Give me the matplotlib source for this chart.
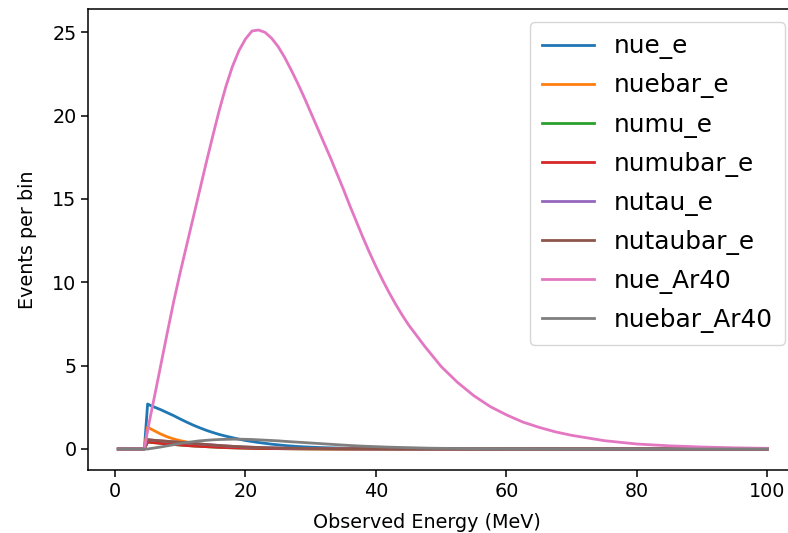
import matplotlib
matplotlib.use("Agg")
import matplotlib.pyplot as plt

# energy grid for the electron-scattering channels and nuebar_Ar40
energy = [0.5, 4.5, 5, 5.5, 6, 7, 8, 9, 10, 11, 12, 13, 14, 15, 16, 17, 18, 19, 20,
          21, 22, 23, 24, 25, 26, 28, 30, 32, 34, 36, 38, 40, 42, 44, 46, 48, 50,
          52.5, 55, 57.5, 60, 62.5, 65, 67.5, 70, 75, 80, 85, 90, 95, 100]

# finer energy grid for nue_Ar40
energy_ar = ([0.5, 4.5, 5, 5.5, 6] + list(range(7, 46)) +
             [47.5, 50, 52.5, 55, 57.5, 60, 62.5, 65, 67.5, 70, 75, 80, 85, 90, 95, 100])

nue_e = [0, 0, 2.7, 2.6, 2.52,
         2.36, 2.18, 2.0, 1.8, 1.61, 1.43, 1.27, 1.12, 0.99, 0.87, 0.77, 0.68, 0.59, 0.51,
         0.45, 0.39, 0.34, 0.29, 0.25, 0.21,
         0.15, 0.11, 0.08, 0.06, 0.04, 0.03, 0.02, 0.015, 0.01, 0.008, 0.006, 0.004,
         0.003, 0.002, 0.001, 0.001, 0, 0, 0, 0,
         0, 0, 0, 0, 0, 0]

nuebar_e = [0, 0, 1.32, 1.2, 1.1,
            0.9, 0.73, 0.6, 0.5, 0.42, 0.35, 0.29, 0.24, 0.2, 0.16, 0.13, 0.11, 0.09, 0.075,
            0.06, 0.05, 0.04, 0.033, 0.027, 0.022,
            0.015, 0.01, 0.007, 0.005, 0.003, 0.002, 0.001, 0, 0, 0, 0, 0,
            0, 0, 0, 0, 0, 0, 0, 0,
            0, 0, 0, 0, 0, 0]

numu_e = [0, 0, 0.42, 0.4, 0.38,
          0.34, 0.3, 0.27, 0.24, 0.21, 0.18, 0.16, 0.14, 0.12, 0.1, 0.085, 0.072, 0.061, 0.052,
          0.044, 0.037, 0.031, 0.026, 0.022, 0.018,
          0.012, 0.008, 0.006, 0.004, 0.003, 0.002, 0.001, 0.001, 0, 0, 0, 0,
          0, 0, 0, 0, 0, 0, 0, 0,
          0, 0, 0, 0, 0, 0]

numubar_e = [0, 0, 0.42, 0.4, 0.38,
             0.34, 0.3, 0.27, 0.24, 0.21, 0.18, 0.16, 0.14, 0.12, 0.1, 0.085, 0.072, 0.061, 0.052,
             0.044, 0.037, 0.031, 0.026, 0.022, 0.018,
             0.012, 0.008, 0.006, 0.004, 0.003, 0.002, 0.001, 0.001, 0, 0, 0, 0,
             0, 0, 0, 0, 0, 0, 0, 0,
             0, 0, 0, 0, 0, 0]

nutau_e = [0, 0, 0.56, 0.54, 0.52,
           0.49, 0.46, 0.43, 0.4, 0.37, 0.33, 0.3, 0.27, 0.24, 0.21, 0.185, 0.16, 0.14, 0.12,
           0.105, 0.09, 0.08, 0.07, 0.06, 0.05,
           0.038, 0.028, 0.02, 0.015, 0.011, 0.008, 0.006, 0.004, 0.003, 0.002, 0.001, 0.001,
           0, 0, 0, 0, 0, 0, 0, 0,
           0, 0, 0, 0, 0, 0]

nutaubar_e = [0, 0, 0.56, 0.54, 0.52,
              0.49, 0.46, 0.43, 0.4, 0.37, 0.33, 0.3, 0.27, 0.24, 0.21, 0.185, 0.16, 0.14, 0.12,
              0.105, 0.09, 0.08, 0.07, 0.06, 0.05,
              0.038, 0.028, 0.02, 0.015, 0.011, 0.008, 0.006, 0.004, 0.003, 0.002, 0.001, 0.001,
              0, 0, 0, 0, 0, 0, 0, 0,
              0, 0, 0, 0, 0, 0]

nue_Ar40 = [0, 0, 1.1, 2.1, 3.05,
            5.0, 6.95, 8.85, 10.6, 12.25, 13.9, 15.55, 17.2, 18.8, 20.35,
            21.75, 22.95, 23.9, 24.6, 25.08, 25.14, 25.0, 24.65, 24.15, 23.5,
            22.75, 21.95, 21.1, 20.2, 19.3, 18.4, 17.5, 16.55, 15.6, 14.6,
            13.65, 12.7, 11.8, 10.95, 10.15, 9.4, 8.7, 8.05, 7.45,
            6.15, 4.95, 4.0, 3.2, 2.55, 2.05, 1.62, 1.3, 1.03, 0.82,
            0.5, 0.3, 0.19, 0.12, 0.07, 0.04]

nuebar_Ar40 = [0, 0, 0.0, 0.03, 0.06,
               0.12, 0.19, 0.26, 0.33, 0.39, 0.44, 0.49, 0.52, 0.55, 0.57, 0.58, 0.59, 0.59, 0.58,
               0.57, 0.55, 0.53, 0.51, 0.49, 0.46,
               0.41, 0.36, 0.31, 0.26, 0.21, 0.17, 0.14, 0.11, 0.09, 0.07, 0.05, 0.04,
               0.03, 0.02, 0.015, 0.01, 0.007, 0.005, 0.003, 0.002,
               0.001, 0.001, 0, 0, 0, 0]

labels = ["nue_e", "nuebar_e", "numu_e", "numubar_e", "nutau_e", "nutaubar_e",
          "nue_Ar40", "nuebar_Ar40"]
series = [nue_e, nuebar_e, numu_e, numubar_e, nutau_e, nutaubar_e, nue_Ar40, nuebar_Ar40]
grids = [energy, energy, energy, energy, energy, energy, energy_ar, energy]

W, H = 788, 533
fig = plt.figure(figsize=(W / 100, H / 100), dpi=100)
L, R, T, B = 88, 850, 9, 470
ax = fig.add_axes([L / W, 1 - B / H, (R - L) / W, (B - T) / H])

for xg, s, lab in zip(grids, series, labels):
    ax.plot(xg, s, label=lab, linewidth=2.0)

ax.set_xlim(-4.14, -4.14 + (R - L) / 6.523)
ax.set_ylim(-1.26, 26.4)
ax.set_xticks([0, 20, 40, 60, 80, 100])
ax.set_yticks([0, 5, 10, 15, 20, 25])
ax.tick_params(labelsize=13.8, length=4.8, width=1.1)
for sp in ax.spines.values():
    sp.set_linewidth(1.1)
ax.spines["right"].set_visible(False)
ax.set_xlabel("Observed Energy (MeV)", fontsize=13.8)
ax.set_ylabel("Events per bin", fontsize=13.8, labelpad=11)
ax.xaxis.set_label_coords((427 - L) / (R - L), -(522 - B) / (B - T), transform=ax.transAxes)
ax.xaxis.label.set_verticalalignment("center")

ax.legend(loc="upper right", bbox_to_anchor=(785 / W, 1 - 22 / H),
          bbox_transform=fig.transFigure, borderaxespad=0, fontsize=17.8,
          handlelength=2.1, labelspacing=0.57, borderpad=0.5)

fig.savefig("out.png", dpi=100)
